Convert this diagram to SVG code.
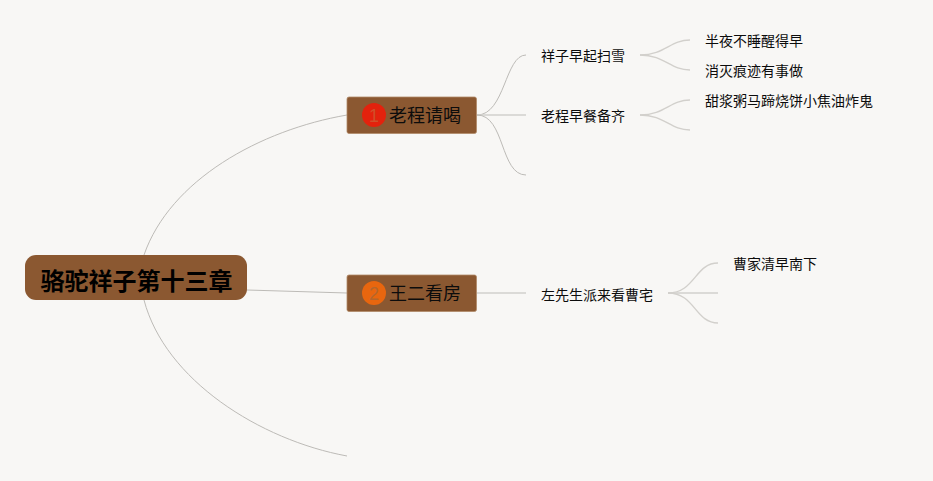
<svg xmlns="http://www.w3.org/2000/svg" width="933" height="481" viewBox="0 0 933 481">
<style>
text{font-family:"Noto Sans CJK SC","Liberation Sans",sans-serif;fill:#0c0c0c}
.leaf{font-size:14px}
.main{font-size:18px}
.c{fill:none;stroke:#bdbbb7;stroke-width:1}
.l{fill:none;stroke:#d2d0cc;stroke-width:1.4}
.box{fill:#8b5831;stroke:#b08a68;stroke-width:.8}
.num{font-family:"Liberation Sans",sans-serif;font-size:18px;text-anchor:middle}
</style>
<rect width="933" height="481" fill="#f8f7f5"/>
<g id="connectors">
<path class="c" d="M144 255C170 180 260 130 347 115"/>
<path class="c" d="M247 290L347 293"/>
<path class="c" d="M144 300C165 380 260 440 347 456"/>
<path class="c" d="M477 115C505 115 505 55 526 55"/>
<path class="l" d="M477 115H526"/>
<path class="c" d="M477 115C505 115 500 175 526 175"/>
<path class="l" d="M477 293H526"/>
<path class="l" d="M640 55C665 55 670 40 690 40"/>
<path class="l" d="M640 55C665 55 670 70 690 70"/>
<path class="l" d="M640 115C665 115 670 100 690 100"/>
<path class="l" d="M640 115C665 115 670 130 690 130"/>
<path class="l" d="M668 293C695 293 695 263 718 263"/>
<path class="l" d="M668 293H718"/>
<path class="l" d="M668 293C695 293 695 323 718 323"/>
</g>
<g id="root"><rect x="25" y="255" width="222" height="45" rx="11" fill="#8b5831"/><text x="136.500" y="290" font-size="24" font-weight="700" text-anchor="middle" style="fill:#000">骆驼祥子第十三章</text></g>
<g id="n1"><rect class="box" x="347" y="97" width="129.500" height="36.500" rx="2"/><circle cx="374" cy="115" r="12" fill="#e3220d"/><text class="num" x="374" y="121.500" style="fill:#d0502a">1</text><text class="main" x="389" y="122">老程请喝</text></g>
<g id="n2"><rect class="box" x="347" y="275" width="129.500" height="36.500" rx="2"/><circle cx="374" cy="293" r="12" fill="#e8660f"/><text class="num" x="374" y="299.500" style="fill:#b5662c">2</text><text class="main" x="389" y="300">王二看房</text></g>
<g id="a1"><text class="leaf" x="541" y="61">祥子早起扫雪</text></g>
<g id="a2"><text class="leaf" x="541" y="121">老程早餐备齐</text></g>
<g id="a3"><text class="leaf" x="541" y="300">左先生派来看曹宅</text></g>
<g id="b1"><text class="leaf" x="705" y="46">半夜不睡醒得早</text></g>
<g id="b2"><text class="leaf" x="705" y="76">消灭痕迹有事做</text></g>
<g id="b3"><text class="leaf" x="705" y="106">甜浆粥马蹄烧饼小焦油炸鬼</text></g>
<g id="b4"><text class="leaf" x="733" y="269">曹家清早南下</text></g>
</svg>
